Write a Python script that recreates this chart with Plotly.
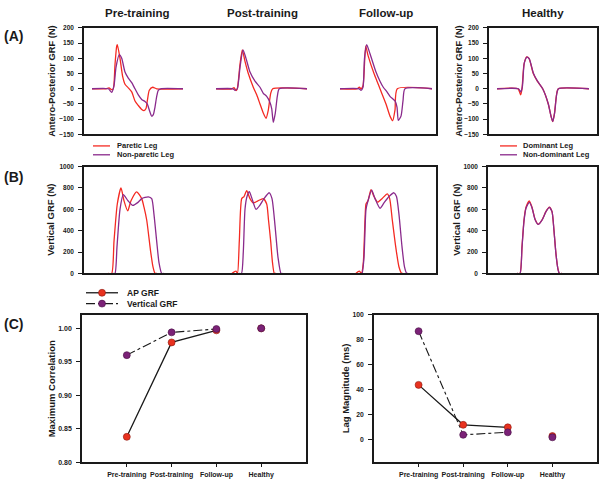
import plotly.graph_objects as go

W, H = 600, 485
RED = "#F42A22"
PURPLE = "#8A2A8C"
MRED = "#E8321F"
MPURPLE = "#7B2277"
INK = "#1a1a1a"
FONT = "Liberation Sans, Arial, sans-serif"

# ---------------- column headers / categories ----------------
conditions = ["Pre-training", "Post-training", "Follow-up", "Healthy"]

# ---------------- Panel A: antero-posterior GRF (N) ----------------
# time along the shared stroke-patient axis (arbitrary units)
ap_pre_paretic_t = [8, 22, 25, 27.5, 29.3, 31, 32.7, 33.3, 36, 38.7, 41, 44.3, 47.7, 51, 54.3, 57.7, 60, 62, 63.3, 65.3, 68.7, 72.7, 99]
ap_pre_paretic = [0, 0, 3, -3, 0, 80, 140, 145, 100, 40, 15, 3, -10, -40, -55, -68, -72, -65, -40, -5, 5, 0, 0]
ap_pre_nonparetic_t = [8, 24.3, 27.7, 30, 32, 35.3, 37.7, 41, 44.3, 47.7, 51, 54.3, 57.7, 61, 63.3, 65.3, 67.7, 69.3, 71, 72.7, 74.3, 76.7, 99]
ap_pre_nonparetic = [0, 0, -12, 10, 70, 112, 100, 55, 35, 20, 0, -20, -35, -42, -50, -70, -90, -85, -60, -25, -5, 0, 0]

ap_post_paretic_t = [132, 148, 150, 152, 153.3, 156, 158.3, 161, 164.3, 169.3, 172.7, 176, 179.3, 182, 184.3, 186.7, 188.7, 223]
ap_post_paretic = [0, 0, 4, -6, 0, 80, 128, 90, 50, 5, -20, -50, -80, -97, -70, -15, 0, 0]
ap_post_nonparetic_t = [132, 149, 151, 153.3, 156, 159, 162, 166, 171, 176, 179.3, 182.7, 186, 187.7, 189.3, 191.3, 193.3, 195.3, 223]
ap_post_nonparetic = [0, 0, -5, 0, 70, 128, 100, 55, 25, 5, -15, -25, -45, -65, -110, -80, -25, 0, 0]

ap_fu_paretic_t = [256, 273, 275.3, 277, 279, 281.7, 284, 290, 293, 296, 302, 306, 308.7, 311, 313.3, 348]
ap_fu_paretic = [0, 0, 5, 0, 10, 140, 110, 50, 25, 0, -50, -90, -105, -70, 0, 0]
ap_fu_nonparetic_t = [256, 275, 277, 279, 280.5, 282.7, 286, 292, 296, 299.3, 303, 306, 311, 313, 314.3, 317, 319, 321, 348]
ap_fu_nonparetic = [0, 0, -5, 5, 100, 145, 115, 55, 25, 5, -10, -25, -40, -60, -104, -90, -40, 0, 0]

ap_healthy_dom_t = [8, 29, 31.7, 33, 35, 37.7, 40, 44.3, 48.3, 53.7, 59.3, 62, 63.7, 65.5, 67.5, 69.3, 100]
ap_healthy_dom = [0, 0, -20, 0, 80, 105, 100, 50, 25, 0, -50, -90, -108, -80, -20, 0, 0]
ap_healthy_nondom_t = [8, 29.5, 31.7, 33.3, 35.3, 38, 40.3, 44.5, 48.5, 53.7, 59.3, 62, 63.8, 65.6, 67.6, 69.4, 100]
ap_healthy_nondom = [0, 0, -10, 5, 85, 104, 98, 50, 25, 0, -50, -90, -107, -80, -20, 0, 0]

# ---------------- Panel B: vertical GRF (N) ----------------
v_pre_paretic_t = [24, 27.7, 30, 33.3, 37, 40, 43.7, 47, 52.7, 57.7, 60, 62.7, 66.7, 69, 71, 73]
v_pre_paretic = [0, 0, 300, 650, 800, 680, 585, 680, 763, 700, 620, 500, 200, 60, 0, 0]
v_pre_nonparetic_t = [29, 31, 33, 36, 39.3, 44, 48.7, 54, 57.7, 64.3, 67.7, 70, 72.7, 75, 77.7, 80]
v_pre_nonparetic = [0, 0, 250, 600, 738, 680, 637, 665, 700, 717, 700, 550, 300, 100, 0, 0]

v_post_paretic_t = [148, 152, 153.5, 155.3, 157.7, 160, 162.7, 166, 169.3, 174, 179.3, 182.7, 184.5, 186.7, 188.5, 190.3, 192]
v_post_paretic = [0, 20, 0, 300, 700, 720, 775, 700, 660, 680, 700, 650, 500, 300, 100, 0, 0]
v_post_nonparetic_t = [155, 157.5, 159.3, 161, 163, 165.3, 168, 172, 176, 180, 185.3, 188, 191, 194, 197, 199]
v_post_nonparetic = [0, 0, 200, 600, 720, 765, 700, 600, 640, 700, 755, 700, 450, 150, 0, 0]

v_fu_paretic_t = [272, 275.3, 277.5, 279.3, 281, 282, 284, 287, 290, 293.7, 298, 303.3, 305.7, 308.3, 311.7, 315, 317.7, 319]
v_fu_paretic = [0, 20, 0, 100, 500, 650, 680, 785, 720, 667, 700, 745, 700, 500, 250, 60, 0, 0]
v_fu_nonparetic_t = [276, 278, 280, 282, 284, 287.7, 291, 296, 300, 305, 310, 312.5, 315, 318, 320.5, 322.7, 324]
v_fu_nonparetic = [0, 0, 150, 600, 680, 780, 700, 610, 660, 720, 755, 720, 550, 250, 60, 0, 0]

v_healthy_dom_t = [29, 32, 34, 36, 38, 41.3, 44, 47, 50.3, 54, 58, 61.3, 64, 66, 68, 70, 71.3, 74]
v_healthy_dom = [0, 0, 250, 500, 620, 680, 620, 510, 460, 500, 580, 620, 580, 400, 180, 40, 0, 0]
v_healthy_nondom_t = [29, 32, 34, 36, 38, 41.3, 44, 47, 50.3, 54, 58, 61.3, 64, 66, 68, 70, 71.3, 74]
v_healthy_nondom = [0, 0, 240, 490, 610, 665, 615, 505, 458, 498, 578, 618, 578, 398, 178, 38, 0, 0]

# ---------------- Panel C ----------------
ap_corr = [0.838, 0.979, 0.997, 1.000]
vert_corr = [0.960, 0.994, 0.999, 1.000]
ap_lag = [44, 12, 10, 3]
vert_lag = [87, 4, 6, 2]
cat_pos = [1, 2, 3, 4]


def px(x):
    return x / W


def py(y):
    return 1 - y / H


fig = go.Figure()


def curve(t, v, color, xa, ya):
    fig.add_trace(go.Scatter(x=t, y=v, mode="lines", xaxis=xa, yaxis=ya,
                             line=dict(color=color, width=1.3, shape="spline", smoothing=0.6),
                             showlegend=False, hoverinfo="skip"))


# Panel A
for t, v in [(ap_pre_paretic_t, ap_pre_paretic), (ap_post_paretic_t, ap_post_paretic), (ap_fu_paretic_t, ap_fu_paretic)]:
    curve(t, v, RED, "x", "y")
for t, v in [(ap_pre_nonparetic_t, ap_pre_nonparetic), (ap_post_nonparetic_t, ap_post_nonparetic), (ap_fu_nonparetic_t, ap_fu_nonparetic)]:
    curve(t, v, PURPLE, "x", "y")
curve(ap_healthy_dom_t, ap_healthy_dom, RED, "x2", "y2")
curve(ap_healthy_nondom_t, ap_healthy_nondom, PURPLE, "x2", "y2")

# Panel B
for t, v in [(v_pre_paretic_t, v_pre_paretic), (v_post_paretic_t, v_post_paretic), (v_fu_paretic_t, v_fu_paretic)]:
    curve(t, v, RED, "x3", "y3")
for t, v in [(v_pre_nonparetic_t, v_pre_nonparetic), (v_post_nonparetic_t, v_post_nonparetic), (v_fu_nonparetic_t, v_fu_nonparetic)]:
    curve(t, v, PURPLE, "x3", "y3")
curve(v_healthy_dom_t, v_healthy_dom, RED, "x4", "y4")
curve(v_healthy_nondom_t, v_healthy_nondom, PURPLE, "x4", "y4")

# Panel C
for xa, ya, apv, vv in [("x5", "y5", ap_corr, vert_corr), ("x6", "y6", ap_lag, vert_lag)]:
    fig.add_trace(go.Scatter(x=cat_pos[:3], y=apv[:3], mode="lines", xaxis=xa, yaxis=ya,
                             line=dict(color=INK, width=1.3), showlegend=False))
    fig.add_trace(go.Scatter(x=cat_pos[:3], y=vv[:3], mode="lines", xaxis=xa, yaxis=ya,
                             line=dict(color=INK, width=1.1, dash="dashdot"), showlegend=False))
    fig.add_trace(go.Scatter(x=cat_pos, y=apv, mode="markers", xaxis=xa, yaxis=ya,
                             marker=dict(color=MRED, size=7, line=dict(color="#8a1a10", width=0.6)),
                             showlegend=False))
    fig.add_trace(go.Scatter(x=cat_pos, y=vv, mode="markers", xaxis=xa, yaxis=ya,
                             marker=dict(color=MPURPLE, size=7, line=dict(color="#4a1045", width=0.6)),
                             showlegend=False))

box = dict(showline=True, mirror=True, linecolor=INK, linewidth=1.5, showgrid=False, zeroline=False)
tfont = dict(family=FONT, size=6.5, color=INK, weight="bold")


def xbare(dom, rng):
    return dict(domain=dom, range=rng, showticklabels=False, ticks="", **box)


def yax(dom, rng, vals, anchor):
    return dict(domain=dom, range=rng, tickvals=vals, ticks="outside", ticklen=4, tickwidth=1,
                tickcolor=INK, tickfont=tfont, anchor=anchor, ticklabelstandoff=3, **box)


yA = [py(132.3), py(24.3)]
yB = [py(273.3), py(165)]
yC = [py(465), py(315.5)]
ap_ticks = [-150, -100, -50, 0, 50, 100, 150, 200]
v_ticks = [0, 200, 400, 600, 800, 1000]

fig.update_layout(
    width=W, height=H, margin=dict(l=0, r=0, t=0, b=0),
    paper_bgcolor="white", plot_bgcolor="white",
    font=dict(family=FONT, color=INK),
    xaxis=dict(anchor="y", **xbare([px(84), px(436)], [0, 352])),
    yaxis=yax(yA, [-150, 200], ap_ticks, "x"),
    xaxis2=dict(anchor="y2", **xbare([px(489), px(597)], [0, 108])),
    yaxis2=yax(yA, [-150, 200], ap_ticks, "x2"),
    xaxis3=dict(anchor="y3", **xbare([px(84), px(436)], [0, 352])),
    yaxis3=yax(yB, [0, 1000], v_ticks, "x3"),
    xaxis4=dict(anchor="y4", **xbare([px(488), px(597)], [0, 109])),
    yaxis4=yax(yB, [0, 1000], v_ticks, "x4"),
    xaxis5=dict(domain=[px(82), px(306)], range=[0, 5], tickvals=cat_pos, ticktext=conditions,
                ticks="outside", ticklen=3, tickcolor=INK, anchor="y5",
                tickfont=dict(family=FONT, size=7, color=INK, weight="bold"), ticklabelstandoff=2, **box),
    yaxis5=dict(domain=yC, range=[0.80, 1.02], tickvals=[0.80, 0.85, 0.90, 0.95, 1.00], tickformat=".2f",
                ticks="outside", ticklen=4, tickcolor=INK, anchor="x5", ticklabelstandoff=3,
                tickfont=dict(family=FONT, size=7, color=INK, weight="bold"), **box),
    xaxis6=dict(domain=[px(374), px(597)], range=[0, 5], tickvals=cat_pos, ticktext=conditions,
                ticks="outside", ticklen=3, tickcolor=INK, anchor="y6",
                tickfont=dict(family=FONT, size=7, color=INK, weight="bold"), ticklabelstandoff=2, **box),
    yaxis6=dict(domain=yC, range=[-18, 100], tickvals=[0, 20, 40, 60, 80, 100],
                ticks="outside", ticklen=4, tickcolor=INK, anchor="x6", ticklabelstandoff=3,
                tickfont=dict(family=FONT, size=6.8, color=INK, weight="bold"), **box),
)

ann = []


def text(x, y, s, size, xanchor="center", angle=0):
    ann.append(dict(x=px(x), y=py(y), xref="paper", yref="paper", text=s, showarrow=False,
                    xanchor=xanchor, yanchor="middle", textangle=angle,
                    font=dict(family=FONT, size=size, color=INK, weight="bold")))


# column headers
for cx, lab in zip([137, 262, 386, 543], conditions):
    text(cx, 9, lab, 11.5)
# panel letters
text(13, 32, "(A)", 14)
text(13, 176, "(B)", 14)
text(13, 325, "(C)", 14)
# axis titles
text(52, 78, "Antero-Posterior GRF (N)", 9.3, angle=-90)
text(459, 78, "Antero-Posterior GRF (N)", 9.3, angle=-90)
text(51, 219, "Vertical GRF (N)", 9.5, angle=-90)
text(457, 219, "Vertical GRF (N)", 9.5, angle=-90)
text(51, 391, "Maximum Correlation", 9.5, angle=-90)
text(345, 390, "Lag Magnitude (ms)", 9.5, angle=-90)

# legends (drawn manually to keep their compact spacing)
shapes = []


def leg_line(x0, x1, y, color, dash="solid", width=1.3):
    shapes.append(dict(type="line", xref="paper", yref="paper", x0=px(x0), x1=px(x1), y0=py(y), y1=py(y),
                       line=dict(color=color, width=width, dash=dash)))


def leg_dot(x, y, color, edge):
    shapes.append(dict(type="circle", xref="paper", yref="paper", xsizemode="pixel", ysizemode="pixel",
                       xanchor=px(x), yanchor=py(y), x0=-3.5, x1=3.5, y0=-3.5, y1=3.5,
                       fillcolor=color, line=dict(color=edge, width=0.6)))


leg_line(93, 110, 144, RED)
leg_line(93, 110, 153, PURPLE)
text(115, 144, "Paretic Leg", 7.5, xanchor="left")
text(115, 153, "Non-paretic Leg", 7.5, xanchor="left")
leg_line(500, 517, 144, RED)
leg_line(500, 517, 153, PURPLE)
text(521, 144, "Dominant Leg", 7.5, xanchor="left")
text(521, 153, "Non-dominant Leg", 7.5, xanchor="left")
leg_line(86, 118, 293, INK)
leg_line(86, 118, 304, INK, dash="dashdot", width=1.1)
leg_dot(102, 293, MRED, "#8a1a10")
leg_dot(102, 304, MPURPLE, "#4a1045")
text(125, 293, "AP GRF", 8.5, xanchor="left")
text(125, 304, "Vertical GRF", 8.5, xanchor="left")

fig.update_layout(annotations=ann, shapes=shapes)
# remove the browser's default 8px page margin so the 600x485 figure fills the window exactly
fig.write_html("out.html", config={"displayModeBar": False},
               post_script="document.body.style.margin='0px';")
